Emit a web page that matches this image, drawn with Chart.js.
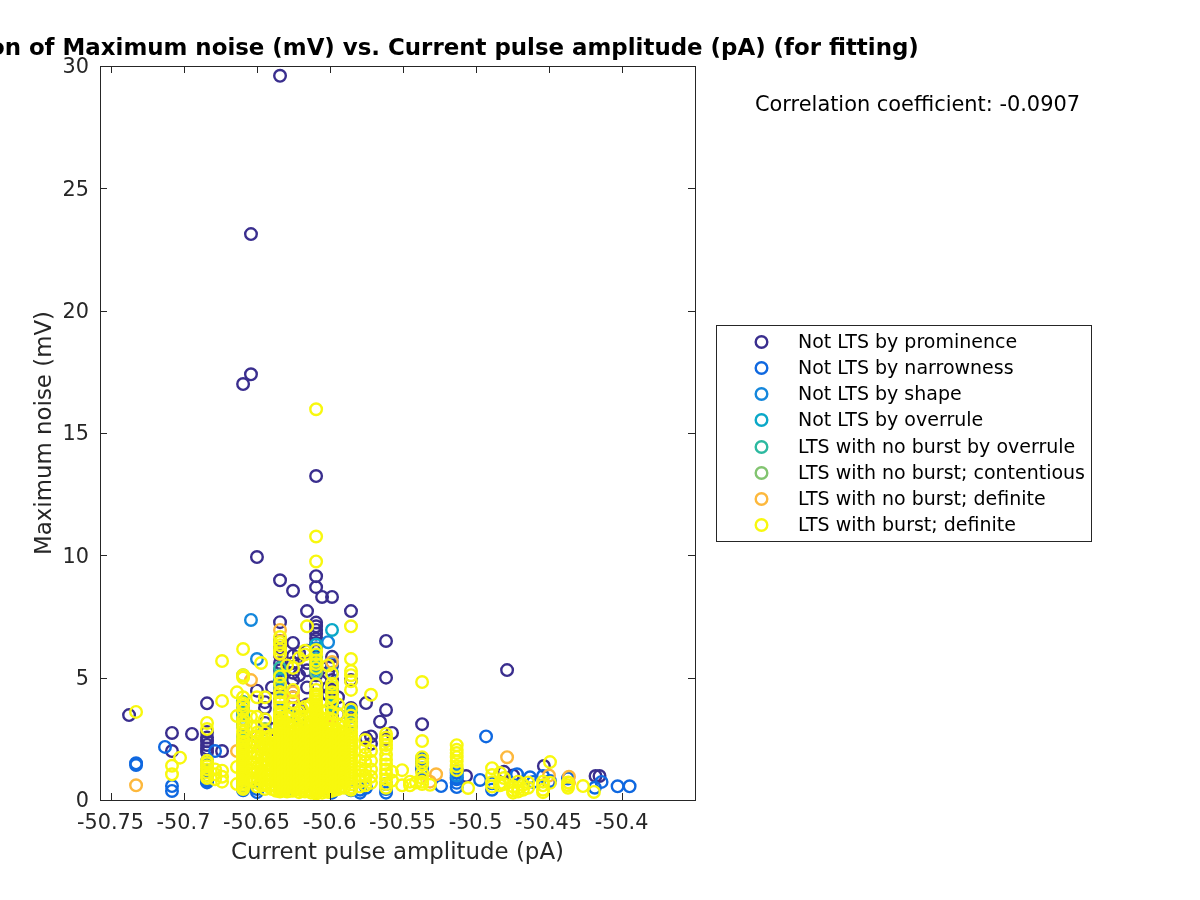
<!DOCTYPE html>
<html>
<head>
<meta charset="utf-8">
<script src="https://cdn.jsdelivr.net/npm/chart.js@4"></script>
<style>html,body{margin:0;padding:0;background:#fff}canvas{display:block}</style>
</head>
<body>
<canvas id="c" width="1200" height="900"></canvas>
<script>
const titleText = "Correlation of Maximum noise (mV) vs. Current pulse amplitude (pA) (for fitting)";
const xAxisLabel = "Current pulse amplitude (pA)";
const yAxisLabel = "Maximum noise (mV)";
const corrText = "Correlation coefficient: -0.0907";
const xTickValues = [-50.75,-50.7,-50.65,-50.6,-50.55,-50.5,-50.45,-50.4];
const xTickLabels = ["-50.75","-50.7","-50.65","-50.6","-50.55","-50.5","-50.45","-50.4"];
const yTickValues = [0,5,10,15,20,25,30];
const seriesNames = ["Not LTS by prominence","Not LTS by narrowness","Not LTS by shape","Not LTS by overrule","LTS with no burst by overrule","LTS with no burst; contentious","LTS with no burst; definite","LTS with burst; definite"];
const seriesColors = ["#3a2e8e","#0f68e0","#1487dc","#0aa8c8","#2cb9a0","#82c470","#fdb83c","#f8f80e"];

// each entry: [x, [y values in that current-amplitude column]]
const prominence = [
 [-50.7373,[3.47]],[-50.7079,[2.74,2.0]],[-50.6942,[2.7]],[-50.6839,[3.95,2.78,2.55,2.4,2.25,2.1,1.95,0.75,0.85]],
 [-50.6736,[2.0]],[-50.6592,[2.3,3.1,4.0]],[-50.6538,[23.13,17.4]],[-50.6592,[17.0]],[-50.6497,[9.93,4.47,2.6]],
 [-50.6442,[3.76,3.15,4.0]],[-50.6394,[4.6,2.9]],[-50.6339,[29.6,8.98,7.27,6.5,6.2,5.9,5.6,5.3,5.0,4.7,4.4,4.1]],
 [-50.6250,[8.55,6.42,5.9,5.6,5.2,4.9,4.2]],[-50.6209,[6.0,5.1,3.8]],[-50.6154,[7.72,6.1,5.6,5.3,4.6,3.9]],
 [-50.6092,[13.24,9.15,8.7,7.25,7.1,6.95,6.8,6.6,6.4,6.1,5.85,5.5,5.1,4.7]],[-50.6051,[8.3,5.4]],[-50.6010,[5.2,4.6,4.3]],
 [-50.5983,[8.3,5.85,5.5,4.9,4.5,4.1,3.7,3.4]],[-50.5942,[4.2,3.5]],[-50.5853,[7.72,4.9,3.76,3.5]],
 [-50.575,[3.96,2.53]],[-50.5716,[2.6,2.3]],[-50.5654,[3.2]],[-50.5613,[6.5,5.0,3.68,2.5]],[-50.5572,[2.74]],
 [-50.5366,[3.1,1.5,1.2]],[-50.5065,[0.98]],[-50.4784,[5.31]],[-50.4805,[1.15]],[-50.4743,[1.0]],
 [-50.4532,[1.39]],[-50.4497,[0.74]],[-50.4178,[0.98]],[-50.4151,[0.98]]
];
const narrowness = [
 [-50.7325,[1.43,1.5]],[-50.7127,[2.17]],[-50.7079,[0.37,0.57]],[-50.6839,[0.72,0.82,1.0,1.2,1.45,1.6]],[-50.6784,[2.0]],
 [-50.6592,[0.4,0.55,0.75,2.0,2.2,3.1,3.3,3.55]],[-50.6497,[0.32,0.45]],[-50.6339,[0.4,0.5,2.9,3.3]],[-50.6291,[0.4]],
 [-50.6209,[3.0,3.4]],[-50.6092,[0.3,5.4,5.55]],[-50.5983,[0.3,0.4,3.0,3.3]],[-50.5853,[0.4,3.2,3.4]],
 [-50.5791,[0.3,0.42]],[-50.575,[0.5]],[-50.5613,[0.3,0.45,0.65]],[-50.5366,[1.55,1.7,1.3]],[-50.5236,[0.57]],
 [-50.5129,[1.22,1.1,0.92,0.85,0.7,0.53]],[-50.4969,[0.82]],[-50.4928,[2.6]],[-50.4887,[0.42,0.68]],
 [-50.4716,[1.05]],[-50.4627,[0.93]],[-50.4606,[0.74]],[-50.4538,[0.98]],[-50.449,[0.78]],[-50.4367,[0.88]],
 [-50.4183,[0.5]],[-50.4137,[0.74]],[-50.4027,[0.56]],[-50.3945,[0.56]]
];
const shape = [
 [-50.6538,[7.36]],[-50.6497,[5.76]],[-50.6592,[3.6,3.8,2.6]],[-50.6339,[4.9,4.5,3.7]],[-50.6291,[3.5]],
 [-50.6092,[6.2,5.6,5.35]],[-50.6010,[6.45]],[-50.5983,[5.6,5.2,4.6,4.0,3.75]],[-50.5853,[3.6,3.0]],[-50.5129,[1.0]]
];
const overrule = [
 [-50.6592,[3.0,2.45]],[-50.6339,[5.0]],[-50.6092,[6.35,5.75,5.25]],[-50.5983,[6.95,4.3]],[-50.5853,[3.55]]
];
const noBurstOverrule = [
 [-50.6592,[4.0,3.45]],[-50.6339,[5.4,5.1]],[-50.6092,[5.45]],[-50.5983,[3.9]]
];
const contentious = [
 [-50.6592,[5.1]],[-50.6339,[4.6]],[-50.6092,[5.2]],[-50.6442,[2.9]]
];
const noBurstDefinite = [
 [-50.7325,[0.6]],[-50.6634,[2.0]],[-50.6538,[4.9]],[-50.6339,[6.95,5.97,4.4,4.0]],[-50.6250,[4.4,4.2]],
 [-50.5983,[5.64,3.0]],[-50.6469,[2.6,2.3]],[-50.5853,[1.0,2.2]],[-50.5312,[0.75]],[-50.527,[1.05]],
 [-50.4784,[1.75]],[-50.4497,[1.0]],[-50.4360,[0.7,0.95]]
];
const burstDefinite = [
 [-50.7325,[3.6]],[-50.7079,[1.4,1.05]],[-50.7024,[1.73]],
 [-50.6839,[3.15,2.9,1.6,1.5,1.38,1.25,1.12,1.0,0.9]],[-50.6784,[1.25,1.05,0.85]],[-50.6736,[5.68,4.05,1.2,0.95,0.75]],
 [-50.6634,[4.4,3.43,1.35,0.65]],
 [-50.6592,[6.17,5.1,5.0,4.2,3.95,3.85,3.65,3.3,3.15,3.0,2.8,2.65,2.5,2.38,2.27,2.18,2.09,2.0,1.92,1.83,1.74,1.66,1.57,1.48,1.4,1.31,1.22,1.14,1.05,0.97,0.88,0.79,0.7,0.62,0.53,0.45]],
 [-50.6538,[3.4,3.0,2.2,1.9,1.5,1.2,0.8]],
 [-50.6497,[4.2,3.4,3.0,2.75,2.6,2.4,2.2,1.95,1.75,1.5,1.3,1.1,0.9,0.7,0.55]],
 [-50.6469,[5.6,2.55,2.35,2.05,1.8,1.5,1.2,1.0,0.8,0.6]],
 [-50.6442,[4.2,3.3,2.75,2.55,2.3,2.1,1.85,1.65,1.4,1.2,1.0,0.8,0.6,0.45]],
 [-50.6415,[2.6,2.3,2.0,1.75,1.5,1.25,1.0,0.75,0.55]],
 [-50.6394,[2.5,2.25,2.05,1.85,1.65,1.45,1.25,1.05,0.85,0.65,0.45]],
 [-50.6366,[2.7,2.35,2.15,1.95,1.75,1.55,1.35,1.15,0.95,0.75,0.55,0.38]],
 [-50.6339,[6.66,6.45,6.33,6.15,6.0,5.05,4.75,4.4,4.2,4.0,3.78,3.6,3.5,3.38,3.25,3.15,3.05,2.95,2.85,2.76,2.67,2.58,2.49,2.4,2.31,2.22,2.13,2.04,1.95,1.86,1.77,1.68,1.59,1.5,1.41,1.32,1.23,1.14,1.05,0.96,0.87,0.78,0.69,0.6,0.51,0.42,0.35]],
 [-50.6315,[2.9,2.6,2.4,2.2,2.0,1.8,1.6,1.4,1.2,1.0,0.8,0.6,0.4]],
 [-50.6291,[5.5,3.4,3.1,2.85,2.65,2.45,2.25,2.05,1.85,1.65,1.45,1.25,1.05,0.85,0.65,0.5,0.35]],
 [-50.6270,[3.0,2.75,2.55,2.35,2.15,1.95,1.75,1.55,1.35,1.15,0.95,0.75,0.55,0.38]],
 [-50.625,[5.4,4.5,4.0,3.75,3.5,3.2,2.95,2.75,2.55,2.35,2.15,1.95,1.75,1.55,1.35,1.15,0.95,0.75,0.55,0.38]],
 [-50.6229,[2.9,2.65,2.45,2.25,2.05,1.85,1.65,1.45,1.25,1.05,0.85,0.65,0.42]],
 [-50.6209,[5.8,3.6,3.3,3.05,2.85,2.65,2.45,2.25,2.05,1.85,1.65,1.45,1.25,1.05,0.85,0.65,0.45,0.32]],
 [-50.6188,[3.7,3.4,2.95,2.75,2.55,2.35,2.15,1.95,1.75,1.55,1.35,1.15,0.95,0.75,0.55,0.38]],
 [-50.6168,[6.1,5.95,3.8,3.4,3.1,2.9,2.7,2.5,2.3,2.1,1.9,1.7,1.5,1.3,1.1,0.9,0.7,0.5,0.35]],
 [-50.6154,[7.1]],
 [-50.6127,[3.9,3.5,3.2,3.0,2.8,2.6,2.4,2.2,2.0,1.8,1.6,1.4,1.2,1.0,0.8,0.6,0.4,0.3]],
 [-50.6092,[15.97,10.77,9.75,6.13,5.95,5.7,5.56,5.4,4.72,4.5,4.32,4.22,4.12,4.02,3.92,3.82,3.72,3.62,3.52,3.42,3.32,3.22,3.12,3.02,2.92,2.82,2.72,2.62,2.52,2.42,2.32,2.22,2.12,2.02,1.92,1.82,1.72,1.62,1.52,1.42,1.32,1.22,1.12,1.02,0.92,0.82,0.72,0.62,0.52,0.42,0.33,0.26]],
 [-50.6072,[3.2,2.95,2.75,2.55,2.35,2.15,1.95,1.75,1.55,1.35,1.15,0.95,0.75,0.55,0.38]],
 [-50.6051,[3.6,3.3,3.05,2.85,2.65,2.45,2.25,2.05,1.85,1.65,1.45,1.25,1.05,0.85,0.65,0.45,0.3]],
 [-50.6030,[2.95,2.75,2.55,2.35,2.15,1.95,1.75,1.55,1.35,1.15,0.95,0.75,0.55,0.38]],
 [-50.601,[5.5,3.7,3.35,3.1,2.9,2.7,2.5,2.3,2.1,1.9,1.7,1.5,1.3,1.1,0.9,0.7,0.5,0.33]],
 [-50.5983,[5.15,4.75,4.6,4.4,4.2,4.0,3.6,3.3,3.1,2.9,2.7,2.5,2.3,2.1,1.9,1.7,1.5,1.3,1.1,0.9,0.7,0.5,0.38]],
 [-50.5962,[2.8,2.6,2.4,2.2,2.0,1.8,1.6,1.4,1.2,1.0,0.8,0.6,0.42]],
 [-50.5942,[3.9,3.5,3.1,2.85,2.65,2.45,2.25,2.05,1.85,1.65,1.45,1.25,1.05,0.85,0.65,0.45]],
 [-50.5921,[2.75,2.55,2.35,2.15,1.95,1.75,1.55,1.35,1.15,0.95,0.75,0.55]],
 [-50.59,[3.0,2.7,2.5,2.3,2.1,1.9,1.7,1.5,1.3,1.1,0.9,0.7,0.5]],
 [-50.5853,[7.1,5.76,5.27,5.1,4.85,4.5,3.7,3.45,3.25,3.1,2.95,2.8,2.68,2.56,2.44,2.32,2.2,2.08,1.96,1.84,1.72,1.6,1.48,1.36,1.24,1.12,1.0,0.88,0.76,0.64,0.52,0.42]],
 [-50.5791,[1.6,1.3,1.0,0.75,0.55]],
 [-50.5756,[2.45,2.15,1.85,1.55,1.25,1.0,0.8,0.6]],
 [-50.5716,[4.3,2.0,1.6,1.25,0.95,0.7]],
 [-50.5613,[2.7,2.55,2.4,2.25,2.1,1.85,1.65,1.45,1.25,1.05,0.85,0.65,0.5]],
 [-50.5572,[1.15,0.8]],[-50.5503,[1.22,0.6]],[-50.5449,[0.6,0.75]],[-50.5408,[0.72]],
 [-50.5366,[4.82,2.41,1.75,1.6,1.45,1.1,0.9,0.75,0.65]],[-50.5312,[0.62]],
 [-50.5129,[2.24,2.05,1.92,1.75,1.58,1.38,1.22]],[-50.5051,[0.49]],
 [-50.4887,[1.3,1.02,0.73,0.55]],[-50.4832,[1.1,0.7,0.6]],[-50.4805,[0.9,0.65]],
 [-50.4743,[0.55,0.4,0.3]],[-50.4709,[0.75,0.5,0.35]],[-50.4675,[0.62,0.42]],[-50.464,[0.72,0.5]],
 [-50.4538,[0.75,0.6,0.42,0.32]],[-50.449,[1.55,0.7]],[-50.4367,[0.72,0.6,0.5]],
 [-50.4264,[0.57]],[-50.4189,[0.33]]
];
const seriesData = [prominence,narrowness,shape,overrule,noBurstOverrule,contentious,noBurstDefinite,burstDefinite];

const TEXT = "#262626", FONT = '"DejaVu Sans"';

const decorations = {
  id:"decorations",
  afterDatasetsDraw(chart){
    const {ctx,chartArea:a,scales:{x,y}} = chart;
    ctx.save();
    ctx.strokeStyle = TEXT; ctx.lineWidth = 1;
    ctx.strokeRect(a.left+.5,a.top+.5,a.right-a.left,a.bottom-a.top);
    ctx.beginPath();
    for(const v of xTickValues){
      const p = Math.round(x.getPixelForValue(v))+.5;
      ctx.moveTo(p,a.bottom); ctx.lineTo(p,a.bottom-7);
      ctx.moveTo(p,a.top); ctx.lineTo(p,a.top+7);
    }
    for(const v of yTickValues){
      const p = Math.round(y.getPixelForValue(v))+.5;
      ctx.moveTo(a.left,p); ctx.lineTo(a.left+7,p);
      ctx.moveTo(a.right,p); ctx.lineTo(a.right-7,p);
    }
    ctx.stroke();
    ctx.textBaseline = "alphabetic";
    ctx.fillStyle = "#000";
    ctx.font = 'bold 22.9px '+FONT; ctx.textAlign = "center";
    ctx.fillText(titleText,397.5,55);
    ctx.font = '20.9px '+FONT; ctx.textAlign = "left";
    ctx.fillText(corrText,755,111);
    // legend
    ctx.fillStyle = "#fff"; ctx.fillRect(717,325,375,216);
    ctx.strokeStyle = TEXT; ctx.strokeRect(716.5,325.5,375,216);
    ctx.font = '19px '+FONT; ctx.textBaseline = "middle";
    const ys = [342,368,394,420,447,473,499,525];
    seriesNames.forEach((n,i)=>{
      ctx.beginPath(); ctx.arc(761.5,ys[i],5.8,0,Math.PI*2);
      ctx.lineWidth = 2.4; ctx.strokeStyle = seriesColors[i]; ctx.stroke();
      ctx.fillStyle = "#000"; ctx.fillText(n,798,ys[i]+1);
    });
    ctx.restore();
  }
};

new Chart(document.getElementById("c"),{
  type:"scatter",
  data:{datasets:seriesNames.map((n,i)=>({
    label:n,
    order:seriesNames.length-i,
    data:seriesData[i].flatMap(([cx,vals])=>vals.map(v=>({x:cx,y:v}))),
    borderColor:seriesColors[i],
    backgroundColor:"rgba(0,0,0,0)",
    borderWidth:2.4,
    pointRadius:5.8,
    pointHoverRadius:5.8
  }))},
  options:{
    responsive:false,animation:false,
    layout:{padding:{top:66,right:505,left:0,bottom:0}},
    plugins:{legend:{display:false},title:{display:false},tooltip:{enabled:false}},
    scales:{
      x:{type:"linear",min:-50.7572,max:-50.3497,
        afterBuildTicks(s){s.ticks = xTickValues.map(v=>({value:v}));},
        afterFit(s){s.height = 100;},
        grid:{display:false},border:{display:false},
        ticks:{autoSkip:false,maxRotation:0,padding:3,color:TEXT,font:{family:FONT,size:20.8},
          callback(v){return xTickLabels[xTickValues.indexOf(v)];}},
        title:{display:true,text:xAxisLabel,color:TEXT,font:{family:FONT,size:22.9},padding:{top:8,bottom:33}}
      },
      y:{type:"linear",min:0,max:30,
        afterBuildTicks(s){s.ticks = yTickValues.map(v=>({value:v}));},
        afterFit(s){s.width = 100;},
        grid:{display:false},border:{display:false},
        ticks:{padding:3,labelOffset:2,color:TEXT,font:{family:FONT,size:20.8}},
        title:{display:true,text:yAxisLabel,color:TEXT,font:{family:FONT,size:22.9},padding:{top:31,bottom:8}}
      }
    }
  },
  plugins:[decorations]
});
</script>
</body>
</html>
